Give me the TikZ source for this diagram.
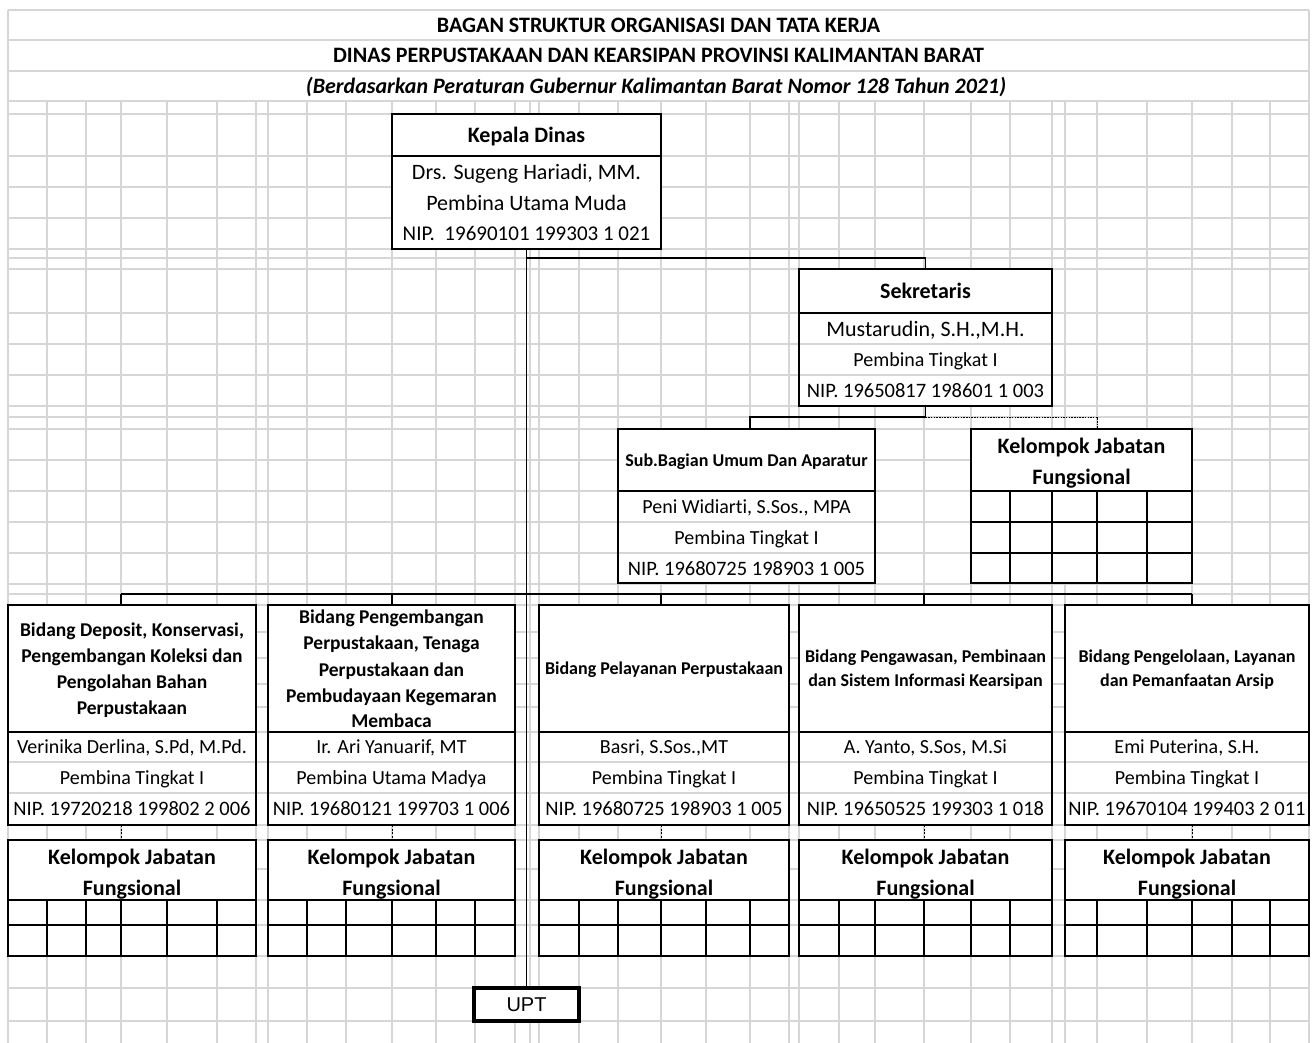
\documentclass[tikz,border=0pt]{standalone}
\usepackage{fontspec}
\setmainfont{Carlito}[Ligatures=NoCommon]
\newfontfamily\arialf{Liberation Sans}
\definecolor{gridgray}{RGB}{214,214,214}
\tikzset{
  gridln/.style={draw=gridgray, line width=1.1pt},
  box/.style={draw=black, line width=1.9pt, fill=white, rectangle, inner sep=0pt, outer sep=0pt, anchor=north west},
  bl/.style={draw=black, line width=1.9pt},
  conn/.style={draw=black, line width=1.9pt},
  dashc/.style={draw=black, line width=0.9pt, dash pattern=on 1.5pt off 1.2pt},
  dotc/.style={draw=black, line width=0.9pt, dash pattern=on 2pt off 1.5pt},
  mk/.style n args={3}{inner sep=0pt, outer sep=0pt, font=#1\fontsize{#2}{#2}\selectfont, text height=#3, text depth=0pt},
  tB22/.style={mk={\bfseries}{22}{14.2pt}},
  tBI22/.style={mk={\bfseries\itshape}{22}{14.2pt}},
  tR22/.style={mk={}{22}{14.2pt}},
  tR21/.style={mk={}{21}{13.5pt}},
  tR20/.style={mk={}{20}{12.9pt}},
  tN/.style={mk={}{20.5}{13.2pt}},
  tB195/.style={mk={\bfseries}{19.5}{12.6pt}},
  tB18/.style={mk={\bfseries}{18}{11.6pt}},
  tU/.style={mk={\arialf}{20}{14.3pt}}
}
\begin{document}
\begin{tikzpicture}[x=1pt,y=-1pt]
\useasboundingbox (0,0) rectangle (1314,1043);
\fill[white] (0,0) rectangle (1314,1043);
% ---------- spreadsheet grid ----------
\foreach \y in {10,40,71,101}{\draw[gridln] (8,\y) -- (1309,\y);}
\draw[gridln] (8,10) -- (8,1043);
\draw[gridln] (1309,10) -- (1309,1043);
\foreach \x in {47,86,121,167,217,256,268,307,346,392,436,475,515,530,539,579,618,661,706,750,789,799,839,875,924,971,1010,1052,1065,1097,1147,1192,1232,1270}{\draw[gridln] (\x,101) -- (\x,1043);}
\foreach \y in {114,156,187,218,249,258,269,313,344,375,406,417,429,460,491,522,553,584,594,605,632,658,684,707,732,762,793,825,840,869,900,925,956,988,1021}{\draw[gridln] (8,\y) -- (1309,\y);}
% ---------- boxes ----------
\node[box, minimum width=269pt, minimum height=135pt] (kd) at (392,114) {};
\node[box, minimum width=253pt, minimum height=137pt] (sek) at (799,269) {};
\node[box, minimum width=257pt, minimum height=154pt] (sub) at (618,429) {};
\node[box, minimum width=221pt, minimum height=154pt] (ksek) at (971,429) {};
\node[box, minimum width=248pt, minimum height=220pt] (b1) at (8,605) {};
\node[box, minimum width=247pt, minimum height=220pt] (b2) at (268,605) {};
\node[box, minimum width=250pt, minimum height=220pt] (b3) at (539,605) {};
\node[box, minimum width=253pt, minimum height=220pt] (b4) at (799,605) {};
\node[box, minimum width=244pt, minimum height=220pt] (b5) at (1065,605) {};
\node[box, minimum width=248pt, minimum height=116pt] (k1) at (8,840) {};
\node[box, minimum width=247pt, minimum height=116pt] (k2) at (268,840) {};
\node[box, minimum width=250pt, minimum height=116pt] (k3) at (539,840) {};
\node[box, minimum width=253pt, minimum height=116pt] (k4) at (799,840) {};
\node[box, minimum width=244pt, minimum height=116pt] (k5) at (1065,840) {};
\node[box, line width=3.2pt, minimum width=105pt, minimum height=33pt] (upt) at (474,988) {};
% gray row lines inside boxes
\draw[gridln] (800,344) -- (1051,344) (800,375) -- (1051,375);
\draw[gridln] (619,522) -- (874,522) (619,553) -- (874,553);
\foreach \a/\b in {9/255,269/514,540/788,800/1051,1066/1308}{
  \draw[gridln] (\a,762) -- (\b,762) (\a,793) -- (\b,793);}
% black inner separators
\draw[bl] (kd.west |- 0,156) -- (kd.east |- 0,156);
\draw[bl] (sek.west |- 0,313) -- (sek.east |- 0,313);
\draw[bl] (sub.west |- 0,491) -- (sub.east |- 0,491);
\draw[bl] (ksek.west |- 0,491) -- (ksek.east |- 0,491);
\draw[bl] (ksek.west |- 0,522) -- (ksek.east |- 0,522);
\draw[bl] (ksek.west |- 0,553) -- (ksek.east |- 0,553);
\foreach \x in {1010,1052,1097,1147}{\draw[bl] (\x,491) -- (\x,583);}
\foreach \n in {b1,b2,b3,b4,b5}{\draw[bl] (\n.west |- 0,732) -- (\n.east |- 0,732);}
\foreach \n in {k1,k2,k3,k4,k5}{
  \draw[bl] (\n.west |- 0,900) -- (\n.east |- 0,900);
  \draw[bl] (\n.west |- 0,925) -- (\n.east |- 0,925);}
\foreach \x in {47,86,121,167,217,307,346,392,436,475,579,618,661,706,750,839,875,924,971,1010,1097,1147,1192,1232,1270}{\draw[bl] (\x,900) -- (\x,956);}
% ---------- connectors ----------
\coordinate (j1) at (526.5,258);
\coordinate (s1) at (750,417);
\coordinate (s2) at (1097,417);
\coordinate (h1) at (121,594);
\coordinate (h2) at (1192,594);
\draw[conn] (kd.south) -- (upt.north);
\draw[conn] (j1) -| (sek.north);
\draw[conn] (sek.south) -- (sek.south |- s1) -- (s1) -- (s1 |- sub.north);
\draw[dashc] (sek.south |- s2) -- (s2) -- (s2 |- ksek.north);
\draw[conn] (h1) -- (h2);
\foreach \x/\n in {121/b1,392/b2,661/b3,924/b4,1192/b5}{\draw[conn] (\x,594) -- (\n.north -| \x,0);}
\foreach \x/\n/\m in {121/b1/k1,392/b2/k2,661/b3/k3,924/b4/k4,1192/b5/k5}{\draw[dotc] (\n.south -| \x,0) -- (\m.north -| \x,0);}
% ---------- texts ----------
\node[tB22] (t1) at (658.5,25) {BAGAN STRUKTUR ORGANISASI DAN TATA KERJA};
\node[tB22] (t2) at (658.5,55.5) {DINAS PERPUSTAKAAN DAN KEARSIPAN PROVINSI KALIMANTAN BARAT};
\node[tBI22] (t3) at (656,86.5) {(Berdasarkan Peraturan Gubernur Kalimantan Barat Nomor 128 Tahun 2021)};
\node[tB22] (kd1) at (526.5,135.5) {Kepala Dinas};
\node[tR22] (kd2) at (526.5,172) {Drs. Sugeng Hariadi, MM.};
\node[tR22] (kd3) at (526.5,203) {Pembina Utama Muda};
\node[tR21] (kd4) at (526.5,234) {NIP.\ \ 19690101 199303 1 021};
\node[tB22] (se1) at (925.5,291.5) {Sekretaris};
\node[tR22] (se2) at (925.5,329) {Mustarudin, S.H.,M.H.};
\node[tR20] (se3) at (925.5,360) {Pembina Tingkat I};
\node[tN] (se4) at (925.5,391) {NIP. 19650817 198601 1 003};
\node[tB18] (su1) at (746.5,461) {Sub.Bagian Umum Dan Aparatur};
\node[tR20] (su2) at (746.5,507) {Peni Widiarti, S.Sos., MPA};
\node[tR20] (su3) at (746.5,538) {Pembina Tingkat I};
\node[tN] (su4) at (746.5,569) {NIP. 19680725 198903 1 005};
\node[tB22] (ks1) at (1081.5,446) {Kelompok Jabatan};
\node[tB22] (ks2) at (1081.5,477) {Fungsional};
% bidang headers
\node[tB195] (b1a) at (132,630) {Bidang Deposit, Konservasi,};
\node[tB195] (b1b) at (132,656) {Pengembangan Koleksi dan};
\node[tB195] (b1c) at (132,682) {Pengolahan Bahan};
\node[tB195] (b1d) at (132,708) {Perpustakaan};
\node[tB195] (b2a) at (391.5,617) {Bidang Pengembangan};
\node[tB195] (b2b) at (391.5,643) {Perpustakaan, Tenaga};
\node[tB195] (b2c) at (391.5,670) {Perpustakaan dan};
\node[tB195] (b2d) at (391.5,696) {Pembudayaan Kegemaran};
\node[tB195] (b2e) at (391.5,721) {Membaca};
\node[tB18] (b3a) at (664,669) {Bidang Pelayanan Perpustakaan};
\node[tB18] (b4a) at (925.5,657) {Bidang Pengawasan, Pembinaan};
\node[tB18] (b4b) at (925.5,681) {dan Sistem Informasi Kearsipan};
\node[tB18] (b5a) at (1187,657) {Bidang Pengelolaan, Layanan};
\node[tB18] (b5b) at (1187,681) {dan Pemanfaatan Arsip};
% bidang rows
\foreach \x/\n/\a/\b/\c in {
  132/1/{Verinika Derlina, S.Pd, M.Pd.}/{Pembina Tingkat I}/{NIP. 19720218 199802 2 006},
  391.5/2/{Ir. Ari Yanuarif, MT}/{Pembina Utama Madya}/{NIP. 19680121 199703 1 006},
  664/3/{Basri, S.Sos.,MT}/{Pembina Tingkat I}/{NIP. 19680725 198903 1 005},
  925.5/4/{A. Yanto, S.Sos, M.Si}/{Pembina Tingkat I}/{NIP. 19650525 199303 1 018},
  1187/5/{Emi Puterina, S.H.}/{Pembina Tingkat I}/{NIP. 19670104 199403 2 011}}{
  \node[tR20] (r\n a) at (\x,747) {\a};
  \node[tR20] (r\n b) at (\x,778) {\b};
  \node[tN] (r\n c) at (\x,809) {\c};
  \node[tB22] (k\n a) at (\x,857) {Kelompok Jabatan};
  \node[tB22] (k\n b) at (\x,888) {Fungsional};
}
\node[tU] (upttxt) at (526.5,1004) {UPT};
\end{tikzpicture}
\end{document}
